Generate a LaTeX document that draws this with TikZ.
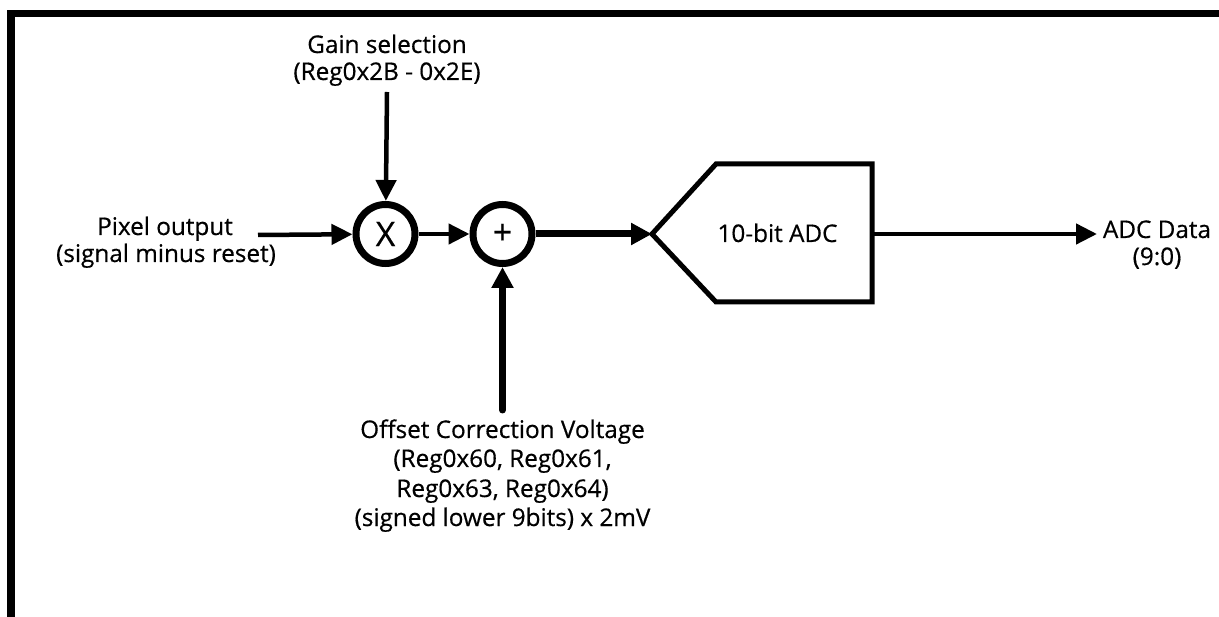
\documentclass[tikz,border=0pt]{standalone}
\usepackage{fontspec}
\setmainfont{Open Sans}
\newfontfamily\lblfont{Open Sans}[FakeBold=0.5]
\usetikzlibrary{arrows.meta}
\begin{document}
\begin{tikzpicture}[x=1pt,y=-1pt,
  lbl/.style={inner sep=0pt, anchor=base, font=\lblfont\fontsize{24.3}{28}\selectfont},
  opnode/.style={circle, draw, line width=7pt, minimum size=59pt, inner sep=0pt},
  thinarrow/.style={line width=4.5pt, -{Triangle[length=21pt,width=20pt]}},
  thickarrow/.style={line width=7pt, -{Triangle[length=21pt,width=21pt]}},
  frame/.style={line width=7.5pt, line join=miter},
  adcshape/.style={line width=5pt, line join=miter},
]
\useasboundingbox (0,0) rectangle (1219,617);
% frame (top and left edges)
\draw[frame] (11,617) -- (11,13.5) -- (1219,13.5);

% labels
\node[lbl] (gain1) at (387,53) {Gain selection};
\node[lbl] (gain2) at (387,80) {(Reg0x2B - 0x2E)};
\node[lbl] (pix1) at (165,235) {Pixel output};
\node[lbl] (pix2) at (166,262) {(signal minus reset)};
\node[lbl] (off1) at (502.5,438) {Offset Correction Voltage};
\node[lbl] (off2) at (502.5,467) {(Reg0x60, Reg0x61,};
\node[lbl] (off3) at (502.5,497) {Reg0x63, Reg0x64)};
\node[lbl] (off4) at (502.5,526) {(signed lower 9bits) x 2mV};
\node[lbl] (data1) at (1157,238) {ADC Data};
\node[lbl] (data2) at (1157,265) {(9:0)};

% operators
\node[opnode, font=\lblfont\fontsize{34}{34}\selectfont] (mul) at (385.5,234) {X};
\node[opnode, font=\lblfont\fontsize{34}{34}\selectfont] (plus) at (502.5,234) {+};

% ADC
\coordinate (adcin) at (652,234);
\coordinate (adctl) at (716,164);
\coordinate (adctr) at (872,164);
\coordinate (adcbr) at (872,302);
\coordinate (adcbl) at (716,302);
\coordinate (adcout) at (872,234);
\draw[adcshape] (adcin) -- (adctl) -- (adctr) -- (adcbr) -- (adcbl) -- cycle;
\node[lbl] (adc) at (777.5,242) {10-bit ADC};

% connector ends
\coordinate (gainstart) at (387,92);
\coordinate (pixstart) at (258,235);
\coordinate (offstart) at (502.5,410);
\coordinate (dataend) at (1097,234);

% connectors
\draw[thinarrow] (gainstart) -- (mul);
\draw[thinarrow] (pixstart) -- (mul);
\draw[thinarrow] (mul) -- (plus);
\draw[thickarrow] (plus) -- (adcin);
\draw[thickarrow, line cap=round] (offstart) -- (plus);
\draw[thinarrow] (adcout) -- (dataend);
\end{tikzpicture}
\end{document}
